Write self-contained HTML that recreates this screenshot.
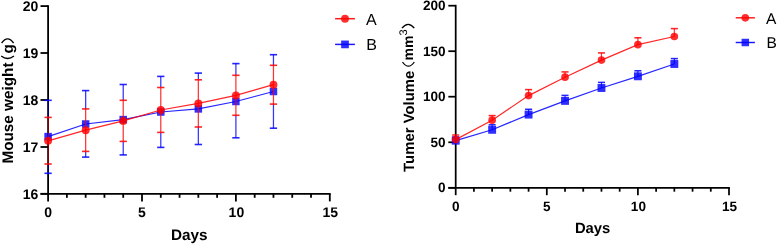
<!DOCTYPE html>
<html><head><meta charset="utf-8"><style>
html,body{margin:0;padding:0;background:#fff;width:777px;height:245px;overflow:hidden}
svg{display:block;will-change:transform}
text{font-family:"Liberation Sans",sans-serif;text-rendering:geometricPrecision}
.tk{font-weight:bold}
.ttl{font-weight:bold}
</style></head><body>
<svg width="777" height="245" viewBox="0 0 777 245">
<line x1="48.10" y1="5.20" x2="48.10" y2="201.40" stroke="#000" stroke-width="1.80"/>
<line x1="40.50" y1="193.80" x2="330.70" y2="193.80" stroke="#000" stroke-width="1.80"/>
<line x1="66.88" y1="193.80" x2="66.88" y2="197.80" stroke="#000" stroke-width="1.80"/>
<line x1="85.66" y1="193.80" x2="85.66" y2="197.80" stroke="#000" stroke-width="1.80"/>
<line x1="104.44" y1="193.80" x2="104.44" y2="197.80" stroke="#000" stroke-width="1.80"/>
<line x1="123.22" y1="193.80" x2="123.22" y2="197.80" stroke="#000" stroke-width="1.80"/>
<line x1="142.00" y1="193.80" x2="142.00" y2="201.40" stroke="#000" stroke-width="1.80"/>
<line x1="160.78" y1="193.80" x2="160.78" y2="197.80" stroke="#000" stroke-width="1.80"/>
<line x1="179.56" y1="193.80" x2="179.56" y2="197.80" stroke="#000" stroke-width="1.80"/>
<line x1="198.34" y1="193.80" x2="198.34" y2="197.80" stroke="#000" stroke-width="1.80"/>
<line x1="217.12" y1="193.80" x2="217.12" y2="197.80" stroke="#000" stroke-width="1.80"/>
<line x1="235.90" y1="193.80" x2="235.90" y2="201.40" stroke="#000" stroke-width="1.80"/>
<line x1="254.68" y1="193.80" x2="254.68" y2="197.80" stroke="#000" stroke-width="1.80"/>
<line x1="273.46" y1="193.80" x2="273.46" y2="197.80" stroke="#000" stroke-width="1.80"/>
<line x1="292.24" y1="193.80" x2="292.24" y2="197.80" stroke="#000" stroke-width="1.80"/>
<line x1="311.02" y1="193.80" x2="311.02" y2="197.80" stroke="#000" stroke-width="1.80"/>
<line x1="329.80" y1="193.80" x2="329.80" y2="201.40" stroke="#000" stroke-width="1.80"/>
<line x1="40.50" y1="6.10" x2="48.10" y2="6.10" stroke="#000" stroke-width="1.80"/>
<text x="38.30" y="10.91" text-anchor="end" class="tk" font-size="14.00">20</text>
<line x1="40.50" y1="53.00" x2="48.10" y2="53.00" stroke="#000" stroke-width="1.80"/>
<text x="38.30" y="57.81" text-anchor="end" class="tk" font-size="14.00">19</text>
<line x1="40.50" y1="100.00" x2="48.10" y2="100.00" stroke="#000" stroke-width="1.80"/>
<text x="38.30" y="104.81" text-anchor="end" class="tk" font-size="14.00">18</text>
<line x1="40.50" y1="147.00" x2="48.10" y2="147.00" stroke="#000" stroke-width="1.80"/>
<text x="38.30" y="151.81" text-anchor="end" class="tk" font-size="14.00">17</text>
<line x1="40.50" y1="193.80" x2="48.10" y2="193.80" stroke="#000" stroke-width="1.80"/>
<text x="38.30" y="198.61" text-anchor="end" class="tk" font-size="14.00">16</text>
<text x="48.10" y="217.10" text-anchor="middle" class="tk" font-size="14.00">0</text>
<text x="142.00" y="217.10" text-anchor="middle" class="tk" font-size="14.00">5</text>
<text x="236.40" y="217.10" text-anchor="middle" class="tk" font-size="14.00">10</text>
<text x="330.30" y="217.10" text-anchor="middle" class="tk" font-size="14.00">15</text>
<polyline points="48.10,136.60 85.66,124.00 123.22,119.60 160.78,112.00 198.34,108.90 235.90,101.50 273.46,91.50" fill="none" stroke="#0000ff" stroke-width="1.25" stroke-opacity="0.85"/>
<line x1="48.40" y1="100.30" x2="48.40" y2="117.40" stroke="#0000ff" stroke-width="1.25" stroke-opacity="0.5"/>
<line x1="48.40" y1="164.00" x2="48.40" y2="173.30" stroke="#0000ff" stroke-width="1.25" stroke-opacity="0.5"/>
<line x1="44.45" y1="100.30" x2="51.75" y2="100.30" stroke="#0000ff" stroke-width="1.60" stroke-opacity="0.85"/>
<line x1="44.45" y1="173.30" x2="51.75" y2="173.30" stroke="#0000ff" stroke-width="1.60" stroke-opacity="0.85"/>
<line x1="85.66" y1="90.60" x2="85.66" y2="108.90" stroke="#0000ff" stroke-width="1.25" stroke-opacity="0.8"/>
<line x1="85.66" y1="151.40" x2="85.66" y2="157.10" stroke="#0000ff" stroke-width="1.25" stroke-opacity="0.8"/>
<line x1="82.01" y1="90.60" x2="89.31" y2="90.60" stroke="#0000ff" stroke-width="1.60" stroke-opacity="0.85"/>
<line x1="82.01" y1="157.10" x2="89.31" y2="157.10" stroke="#0000ff" stroke-width="1.60" stroke-opacity="0.85"/>
<line x1="123.22" y1="84.50" x2="123.22" y2="100.30" stroke="#0000ff" stroke-width="1.25" stroke-opacity="0.8"/>
<line x1="123.22" y1="141.40" x2="123.22" y2="154.90" stroke="#0000ff" stroke-width="1.25" stroke-opacity="0.8"/>
<line x1="119.57" y1="84.50" x2="126.87" y2="84.50" stroke="#0000ff" stroke-width="1.60" stroke-opacity="0.85"/>
<line x1="119.57" y1="154.90" x2="126.87" y2="154.90" stroke="#0000ff" stroke-width="1.60" stroke-opacity="0.85"/>
<line x1="160.78" y1="76.40" x2="160.78" y2="87.50" stroke="#0000ff" stroke-width="1.25" stroke-opacity="0.8"/>
<line x1="160.78" y1="132.40" x2="160.78" y2="147.40" stroke="#0000ff" stroke-width="1.25" stroke-opacity="0.8"/>
<line x1="157.13" y1="76.40" x2="164.43" y2="76.40" stroke="#0000ff" stroke-width="1.60" stroke-opacity="0.85"/>
<line x1="157.13" y1="147.40" x2="164.43" y2="147.40" stroke="#0000ff" stroke-width="1.60" stroke-opacity="0.85"/>
<line x1="198.34" y1="73.10" x2="198.34" y2="79.80" stroke="#0000ff" stroke-width="1.25" stroke-opacity="0.8"/>
<line x1="198.34" y1="127.00" x2="198.34" y2="144.50" stroke="#0000ff" stroke-width="1.25" stroke-opacity="0.8"/>
<line x1="194.69" y1="73.10" x2="201.99" y2="73.10" stroke="#0000ff" stroke-width="1.60" stroke-opacity="0.85"/>
<line x1="194.69" y1="144.50" x2="201.99" y2="144.50" stroke="#0000ff" stroke-width="1.60" stroke-opacity="0.85"/>
<line x1="235.90" y1="63.60" x2="235.90" y2="75.30" stroke="#0000ff" stroke-width="1.25" stroke-opacity="0.8"/>
<line x1="235.90" y1="115.30" x2="235.90" y2="137.80" stroke="#0000ff" stroke-width="1.25" stroke-opacity="0.8"/>
<line x1="232.25" y1="63.60" x2="239.55" y2="63.60" stroke="#0000ff" stroke-width="1.60" stroke-opacity="0.85"/>
<line x1="232.25" y1="137.80" x2="239.55" y2="137.80" stroke="#0000ff" stroke-width="1.60" stroke-opacity="0.85"/>
<line x1="273.46" y1="54.70" x2="273.46" y2="65.30" stroke="#0000ff" stroke-width="1.25" stroke-opacity="0.8"/>
<line x1="273.46" y1="104.10" x2="273.46" y2="128.20" stroke="#0000ff" stroke-width="1.25" stroke-opacity="0.8"/>
<line x1="269.81" y1="54.70" x2="277.11" y2="54.70" stroke="#0000ff" stroke-width="1.60" stroke-opacity="0.85"/>
<line x1="269.81" y1="128.20" x2="277.11" y2="128.20" stroke="#0000ff" stroke-width="1.60" stroke-opacity="0.85"/>
<rect x="44.35" y="132.85" width="7.50" height="7.50" fill="#0000ff" fill-opacity="0.82"/>
<rect x="81.91" y="120.25" width="7.50" height="7.50" fill="#0000ff" fill-opacity="0.82"/>
<rect x="119.47" y="115.85" width="7.50" height="7.50" fill="#0000ff" fill-opacity="0.82"/>
<rect x="157.03" y="108.25" width="7.50" height="7.50" fill="#0000ff" fill-opacity="0.82"/>
<rect x="194.59" y="105.15" width="7.50" height="7.50" fill="#0000ff" fill-opacity="0.82"/>
<rect x="232.15" y="97.75" width="7.50" height="7.50" fill="#0000ff" fill-opacity="0.82"/>
<rect x="269.71" y="87.75" width="7.50" height="7.50" fill="#0000ff" fill-opacity="0.82"/>
<polyline points="48.10,140.80 85.66,130.20 123.22,120.90 160.78,110.00 198.34,103.40 235.90,95.40 273.46,84.70" fill="none" stroke="#ff0000" stroke-width="1.25" stroke-opacity="0.85"/>
<line x1="48.40" y1="117.40" x2="48.40" y2="164.00" stroke="#ff0000" stroke-width="1.25" stroke-opacity="0.5"/>
<line x1="44.45" y1="117.40" x2="51.75" y2="117.40" stroke="#ff0000" stroke-width="1.60" stroke-opacity="0.85"/>
<line x1="44.45" y1="164.00" x2="51.75" y2="164.00" stroke="#ff0000" stroke-width="1.60" stroke-opacity="0.85"/>
<line x1="85.66" y1="108.90" x2="85.66" y2="151.40" stroke="#ff0000" stroke-width="1.25" stroke-opacity="0.8"/>
<line x1="82.01" y1="108.90" x2="89.31" y2="108.90" stroke="#ff0000" stroke-width="1.60" stroke-opacity="0.85"/>
<line x1="82.01" y1="151.40" x2="89.31" y2="151.40" stroke="#ff0000" stroke-width="1.60" stroke-opacity="0.85"/>
<line x1="123.22" y1="100.30" x2="123.22" y2="141.40" stroke="#ff0000" stroke-width="1.25" stroke-opacity="0.8"/>
<line x1="119.57" y1="100.30" x2="126.87" y2="100.30" stroke="#ff0000" stroke-width="1.60" stroke-opacity="0.85"/>
<line x1="119.57" y1="141.40" x2="126.87" y2="141.40" stroke="#ff0000" stroke-width="1.60" stroke-opacity="0.85"/>
<line x1="160.78" y1="87.50" x2="160.78" y2="132.40" stroke="#ff0000" stroke-width="1.25" stroke-opacity="0.8"/>
<line x1="157.13" y1="87.50" x2="164.43" y2="87.50" stroke="#ff0000" stroke-width="1.60" stroke-opacity="0.85"/>
<line x1="157.13" y1="132.40" x2="164.43" y2="132.40" stroke="#ff0000" stroke-width="1.60" stroke-opacity="0.85"/>
<line x1="198.34" y1="79.80" x2="198.34" y2="127.00" stroke="#ff0000" stroke-width="1.25" stroke-opacity="0.8"/>
<line x1="194.69" y1="79.80" x2="201.99" y2="79.80" stroke="#ff0000" stroke-width="1.60" stroke-opacity="0.85"/>
<line x1="194.69" y1="127.00" x2="201.99" y2="127.00" stroke="#ff0000" stroke-width="1.60" stroke-opacity="0.85"/>
<line x1="235.90" y1="75.30" x2="235.90" y2="115.30" stroke="#ff0000" stroke-width="1.25" stroke-opacity="0.8"/>
<line x1="232.25" y1="75.30" x2="239.55" y2="75.30" stroke="#ff0000" stroke-width="1.60" stroke-opacity="0.85"/>
<line x1="232.25" y1="115.30" x2="239.55" y2="115.30" stroke="#ff0000" stroke-width="1.60" stroke-opacity="0.85"/>
<line x1="273.46" y1="65.30" x2="273.46" y2="104.10" stroke="#ff0000" stroke-width="1.25" stroke-opacity="0.8"/>
<line x1="269.81" y1="65.30" x2="277.11" y2="65.30" stroke="#ff0000" stroke-width="1.60" stroke-opacity="0.85"/>
<line x1="269.81" y1="104.10" x2="277.11" y2="104.10" stroke="#ff0000" stroke-width="1.60" stroke-opacity="0.85"/>
<circle cx="48.10" cy="140.80" r="3.95" fill="#ff0000" fill-opacity="0.82"/>
<circle cx="85.66" cy="130.20" r="3.95" fill="#ff0000" fill-opacity="0.82"/>
<circle cx="123.22" cy="120.90" r="3.95" fill="#ff0000" fill-opacity="0.82"/>
<circle cx="160.78" cy="110.00" r="3.95" fill="#ff0000" fill-opacity="0.82"/>
<circle cx="198.34" cy="103.40" r="3.95" fill="#ff0000" fill-opacity="0.82"/>
<circle cx="235.90" cy="95.40" r="3.95" fill="#ff0000" fill-opacity="0.82"/>
<circle cx="273.46" cy="84.70" r="3.95" fill="#ff0000" fill-opacity="0.82"/>
<line x1="335.10" y1="18.70" x2="354.90" y2="18.70" stroke="#ff0000" stroke-width="1.50" stroke-opacity="0.9"/>
<circle cx="345.00" cy="18.70" r="3.95" fill="#ff0000" fill-opacity="0.82"/>
<text x="366.00" y="24.60" class="lg" font-size="16.00">A</text>
<line x1="335.10" y1="44.40" x2="354.90" y2="44.40" stroke="#0000ff" stroke-width="1.50" stroke-opacity="0.9"/>
<rect x="341.15" y="40.55" width="7.70" height="7.70" fill="#0000ff" fill-opacity="0.82"/>
<text x="366.30" y="49.70" class="lg" font-size="16.00">B</text>
<text x="189.2" y="240.1" text-anchor="middle" class="ttl" font-size="15.3">Days</text>
<text transform="translate(12.70,163.60) rotate(-90)" class="ttl" font-size="15.30">Mouse weight</text>
<path d="M1.20,56.00 Q7.60,61.00 14.00,56.00" fill="none" stroke="#000" stroke-width="1.3"/>
<text transform="translate(12.70,53.40) rotate(-90)" class="ttl" font-size="15.30">g</text>
<path d="M1.60,43.00 Q7.60,34.80 13.60,43.00" fill="none" stroke="#000" stroke-width="1.3"/>
<line x1="455.70" y1="4.83" x2="455.70" y2="195.17" stroke="#000" stroke-width="1.75"/>
<line x1="448.33" y1="187.80" x2="729.87" y2="187.80" stroke="#000" stroke-width="1.75"/>
<line x1="473.92" y1="187.80" x2="473.92" y2="191.68" stroke="#000" stroke-width="1.75"/>
<line x1="492.14" y1="187.80" x2="492.14" y2="191.68" stroke="#000" stroke-width="1.75"/>
<line x1="510.36" y1="187.80" x2="510.36" y2="191.68" stroke="#000" stroke-width="1.75"/>
<line x1="528.58" y1="187.80" x2="528.58" y2="191.68" stroke="#000" stroke-width="1.75"/>
<line x1="546.80" y1="187.80" x2="546.80" y2="195.17" stroke="#000" stroke-width="1.75"/>
<line x1="565.02" y1="187.80" x2="565.02" y2="191.68" stroke="#000" stroke-width="1.75"/>
<line x1="583.24" y1="187.80" x2="583.24" y2="191.68" stroke="#000" stroke-width="1.75"/>
<line x1="601.46" y1="187.80" x2="601.46" y2="191.68" stroke="#000" stroke-width="1.75"/>
<line x1="619.68" y1="187.80" x2="619.68" y2="191.68" stroke="#000" stroke-width="1.75"/>
<line x1="637.90" y1="187.80" x2="637.90" y2="195.17" stroke="#000" stroke-width="1.75"/>
<line x1="656.12" y1="187.80" x2="656.12" y2="191.68" stroke="#000" stroke-width="1.75"/>
<line x1="674.34" y1="187.80" x2="674.34" y2="191.68" stroke="#000" stroke-width="1.75"/>
<line x1="692.56" y1="187.80" x2="692.56" y2="191.68" stroke="#000" stroke-width="1.75"/>
<line x1="710.78" y1="187.80" x2="710.78" y2="191.68" stroke="#000" stroke-width="1.75"/>
<line x1="729.00" y1="187.80" x2="729.00" y2="195.17" stroke="#000" stroke-width="1.75"/>
<line x1="448.33" y1="5.70" x2="455.70" y2="5.70" stroke="#000" stroke-width="1.75"/>
<text x="445.60" y="10.36" text-anchor="end" class="tk" font-size="13.58">200</text>
<line x1="448.33" y1="51.20" x2="455.70" y2="51.20" stroke="#000" stroke-width="1.75"/>
<text x="445.60" y="55.86" text-anchor="end" class="tk" font-size="13.58">150</text>
<line x1="448.33" y1="96.70" x2="455.70" y2="96.70" stroke="#000" stroke-width="1.75"/>
<text x="445.60" y="101.36" text-anchor="end" class="tk" font-size="13.58">100</text>
<line x1="448.33" y1="142.30" x2="455.70" y2="142.30" stroke="#000" stroke-width="1.75"/>
<text x="445.60" y="146.96" text-anchor="end" class="tk" font-size="13.58">50</text>
<line x1="448.33" y1="187.80" x2="455.70" y2="187.80" stroke="#000" stroke-width="1.75"/>
<text x="445.60" y="192.46" text-anchor="end" class="tk" font-size="13.58">0</text>
<text x="455.70" y="211.40" text-anchor="middle" class="tk" font-size="13.58">0</text>
<text x="546.80" y="211.40" text-anchor="middle" class="tk" font-size="13.58">5</text>
<text x="638.40" y="211.40" text-anchor="middle" class="tk" font-size="13.58">10</text>
<text x="729.50" y="211.40" text-anchor="middle" class="tk" font-size="13.58">15</text>
<polyline points="455.70,140.70 492.14,129.80 528.58,114.60 565.02,100.90 601.46,88.00 637.90,76.30 674.34,64.00" fill="none" stroke="#0000ff" stroke-width="1.21" stroke-opacity="0.85"/>
<line x1="456.00" y1="137.00" x2="456.00" y2="140.70" stroke="#0000ff" stroke-width="1.21" stroke-opacity="0.5"/>
<line x1="452.16" y1="137.00" x2="459.24" y2="137.00" stroke="#0000ff" stroke-width="1.55" stroke-opacity="0.85"/>
<line x1="492.14" y1="124.80" x2="492.14" y2="129.80" stroke="#0000ff" stroke-width="1.21" stroke-opacity="0.8"/>
<line x1="488.60" y1="124.80" x2="495.68" y2="124.80" stroke="#0000ff" stroke-width="1.55" stroke-opacity="0.85"/>
<line x1="528.58" y1="109.30" x2="528.58" y2="114.60" stroke="#0000ff" stroke-width="1.21" stroke-opacity="0.8"/>
<line x1="525.04" y1="109.30" x2="532.12" y2="109.30" stroke="#0000ff" stroke-width="1.55" stroke-opacity="0.85"/>
<line x1="565.02" y1="95.40" x2="565.02" y2="100.90" stroke="#0000ff" stroke-width="1.21" stroke-opacity="0.8"/>
<line x1="561.48" y1="95.40" x2="568.56" y2="95.40" stroke="#0000ff" stroke-width="1.55" stroke-opacity="0.85"/>
<line x1="601.46" y1="82.40" x2="601.46" y2="88.00" stroke="#0000ff" stroke-width="1.21" stroke-opacity="0.8"/>
<line x1="597.92" y1="82.40" x2="605.00" y2="82.40" stroke="#0000ff" stroke-width="1.55" stroke-opacity="0.85"/>
<line x1="637.90" y1="70.80" x2="637.90" y2="76.30" stroke="#0000ff" stroke-width="1.21" stroke-opacity="0.8"/>
<line x1="634.36" y1="70.80" x2="641.44" y2="70.80" stroke="#0000ff" stroke-width="1.55" stroke-opacity="0.85"/>
<line x1="674.34" y1="58.60" x2="674.34" y2="64.00" stroke="#0000ff" stroke-width="1.21" stroke-opacity="0.8"/>
<line x1="670.80" y1="58.60" x2="677.88" y2="58.60" stroke="#0000ff" stroke-width="1.55" stroke-opacity="0.85"/>
<rect x="451.75" y="136.75" width="7.90" height="7.90" fill="#0000ff" fill-opacity="0.82"/>
<rect x="488.19" y="125.85" width="7.90" height="7.90" fill="#0000ff" fill-opacity="0.82"/>
<rect x="524.63" y="110.65" width="7.90" height="7.90" fill="#0000ff" fill-opacity="0.82"/>
<rect x="561.07" y="96.95" width="7.90" height="7.90" fill="#0000ff" fill-opacity="0.82"/>
<rect x="597.51" y="84.05" width="7.90" height="7.90" fill="#0000ff" fill-opacity="0.82"/>
<rect x="633.95" y="72.35" width="7.90" height="7.90" fill="#0000ff" fill-opacity="0.82"/>
<rect x="670.39" y="60.05" width="7.90" height="7.90" fill="#0000ff" fill-opacity="0.82"/>
<polyline points="455.70,139.60 492.14,120.20 528.58,95.60 565.02,77.20 601.46,60.10 637.90,44.70 674.34,36.50" fill="none" stroke="#ff0000" stroke-width="1.21" stroke-opacity="0.85"/>
<line x1="456.00" y1="135.00" x2="456.00" y2="139.60" stroke="#ff0000" stroke-width="1.21" stroke-opacity="0.5"/>
<line x1="452.16" y1="135.00" x2="459.24" y2="135.00" stroke="#ff0000" stroke-width="1.55" stroke-opacity="0.85"/>
<line x1="492.14" y1="115.60" x2="492.14" y2="120.20" stroke="#ff0000" stroke-width="1.21" stroke-opacity="0.8"/>
<line x1="488.60" y1="115.60" x2="495.68" y2="115.60" stroke="#ff0000" stroke-width="1.55" stroke-opacity="0.85"/>
<line x1="528.58" y1="89.60" x2="528.58" y2="95.60" stroke="#ff0000" stroke-width="1.21" stroke-opacity="0.8"/>
<line x1="525.04" y1="89.60" x2="532.12" y2="89.60" stroke="#ff0000" stroke-width="1.55" stroke-opacity="0.85"/>
<line x1="565.02" y1="71.90" x2="565.02" y2="77.20" stroke="#ff0000" stroke-width="1.21" stroke-opacity="0.8"/>
<line x1="561.48" y1="71.90" x2="568.56" y2="71.90" stroke="#ff0000" stroke-width="1.55" stroke-opacity="0.85"/>
<line x1="601.46" y1="52.90" x2="601.46" y2="60.10" stroke="#ff0000" stroke-width="1.21" stroke-opacity="0.8"/>
<line x1="597.92" y1="52.90" x2="605.00" y2="52.90" stroke="#ff0000" stroke-width="1.55" stroke-opacity="0.85"/>
<line x1="637.90" y1="37.80" x2="637.90" y2="44.70" stroke="#ff0000" stroke-width="1.21" stroke-opacity="0.8"/>
<line x1="634.36" y1="37.80" x2="641.44" y2="37.80" stroke="#ff0000" stroke-width="1.55" stroke-opacity="0.85"/>
<line x1="674.34" y1="28.60" x2="674.34" y2="36.50" stroke="#ff0000" stroke-width="1.21" stroke-opacity="0.8"/>
<line x1="670.80" y1="28.60" x2="677.88" y2="28.60" stroke="#ff0000" stroke-width="1.55" stroke-opacity="0.85"/>
<circle cx="455.70" cy="139.60" r="3.83" fill="#ff0000" fill-opacity="0.82"/>
<circle cx="492.14" cy="120.20" r="3.83" fill="#ff0000" fill-opacity="0.82"/>
<circle cx="528.58" cy="95.60" r="3.83" fill="#ff0000" fill-opacity="0.82"/>
<circle cx="565.02" cy="77.20" r="3.83" fill="#ff0000" fill-opacity="0.82"/>
<circle cx="601.46" cy="60.10" r="3.83" fill="#ff0000" fill-opacity="0.82"/>
<circle cx="637.90" cy="44.70" r="3.83" fill="#ff0000" fill-opacity="0.82"/>
<circle cx="674.34" cy="36.50" r="3.83" fill="#ff0000" fill-opacity="0.82"/>
<line x1="735.70" y1="17.80" x2="754.90" y2="17.80" stroke="#ff0000" stroke-width="1.46" stroke-opacity="0.9"/>
<circle cx="745.30" cy="17.80" r="3.83" fill="#ff0000" fill-opacity="0.82"/>
<text x="766.10" y="23.60" class="lg" font-size="15.52">A</text>
<line x1="735.70" y1="42.50" x2="754.90" y2="42.50" stroke="#0000ff" stroke-width="1.46" stroke-opacity="0.9"/>
<rect x="741.57" y="38.77" width="7.47" height="7.47" fill="#0000ff" fill-opacity="0.82"/>
<text x="766.40" y="47.60" class="lg" font-size="15.52">B</text>
<text x="592.6" y="233.0" text-anchor="middle" class="ttl" font-size="14.8">Days</text>
<text transform="translate(413.60,171.90) rotate(-90)" class="ttl" font-size="14.90">Tumer Volume</text>
<path d="M402.50,62.00 Q408.40,70.40 414.30,62.00" fill="none" stroke="#000" stroke-width="1.3"/>
<text transform="translate(413.40,60.50) rotate(-90)" class="ttl" font-size="14.00">mm</text>
<text transform="translate(407.00,35.60) rotate(-90)" class="sup" font-size="11.00">3</text>
<path d="M402.00,28.20 Q408.15,20.60 414.30,28.20" fill="none" stroke="#000" stroke-width="1.3"/>
</svg>
</body></html>
